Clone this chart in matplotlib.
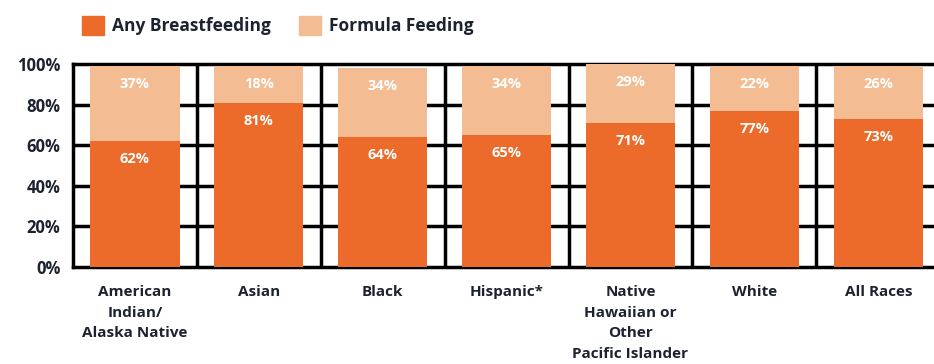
import matplotlib
matplotlib.use('agg')
import matplotlib.pyplot as plt
from matplotlib.patches import Patch
import numpy as np

categories = ['American\nIndian/\nAlaska Native', 'Asian', 'Black', 'Hispanic*',
              'Native\nHawaiian or\nOther\nPacific Islander', 'White', 'All Races']
breast = [62, 81, 64, 65, 71, 77, 73]
formula = [37, 18, 34, 34, 29, 22, 26]
yticks = [0, 20, 40, 60, 80, 100]
ytick_labels = ['0%', '20%', '40%', '60%', '80%', '100%']

c_breast = '#EC6A2A'
c_formula = '#F4BC93'
c_text = '#1C2230'
font = 'Open Sans'

fig = plt.figure(figsize=(9.34, 3.64), dpi=100)
ax = fig.add_axes([73/934, 97/364, 861/934, 203/364])

x = np.arange(len(categories))
ax.bar(x, breast, width=0.72, color=c_breast, zorder=3)
ax.bar(x, formula, width=0.72, bottom=breast, color=c_formula, zorder=3)

# white value labels just under the top of each segment
for xi, b, f in zip(x, breast, formula):
    ax.annotate(f'{b}%', (xi, b), xytext=(0, -13), textcoords='offset points',
                ha='center', va='center', color='white', fontsize=10.5,
                fontweight='bold', family=font, zorder=4)
    ax.annotate(f'{f}%', (xi, b + f), xytext=(0, -13), textcoords='offset points',
                ha='center', va='center', color='white', fontsize=10.5,
                fontweight='bold', family=font, zorder=4)

ax.set_ylim(0, 100)
ax.set_xlim(-0.5, 6.45)

# black grid: horizontal at ticks, vertical at slot boundaries
for yv in yticks[1:-1]:
    ax.axhline(yv, color='black', lw=2.5, zorder=1)
for xv in np.arange(0.5, 6.5, 1.0):
    ax.axvline(xv, color='black', lw=2.5, zorder=1)

for side in ['left', 'bottom', 'top']:
    ax.spines[side].set_linewidth(2.5)
    ax.spines[side].set_color('black')
ax.spines['right'].set_visible(False)

ax.set_yticks(yticks)
ax.set_yticklabels(ytick_labels, fontsize=12, fontweight='bold', family=font, color=c_text)
ax.set_xticks(x)
ax.set_xticklabels(categories, fontsize=11, fontweight='bold', family=font, color=c_text,
                   linespacing=1.6, va='top')
ax.tick_params(axis='y', length=0, pad=9)
ax.tick_params(axis='x', length=0, pad=13)

handles = [Patch(color=c_breast), Patch(color=c_formula)]
fig.legend(handles, ['Any Breastfeeding', 'Formula Feeding'], ncol=2, frameon=False,
           loc='upper left', bbox_to_anchor=(66/934, 1.0),
           prop={'family': font, 'weight': 'bold', 'size': 12.5},
           labelcolor=c_text, handlelength=1.3, handleheight=1.3,
           handletextpad=0.45, columnspacing=1.6)

fig.savefig('out.png', dpi=100)
